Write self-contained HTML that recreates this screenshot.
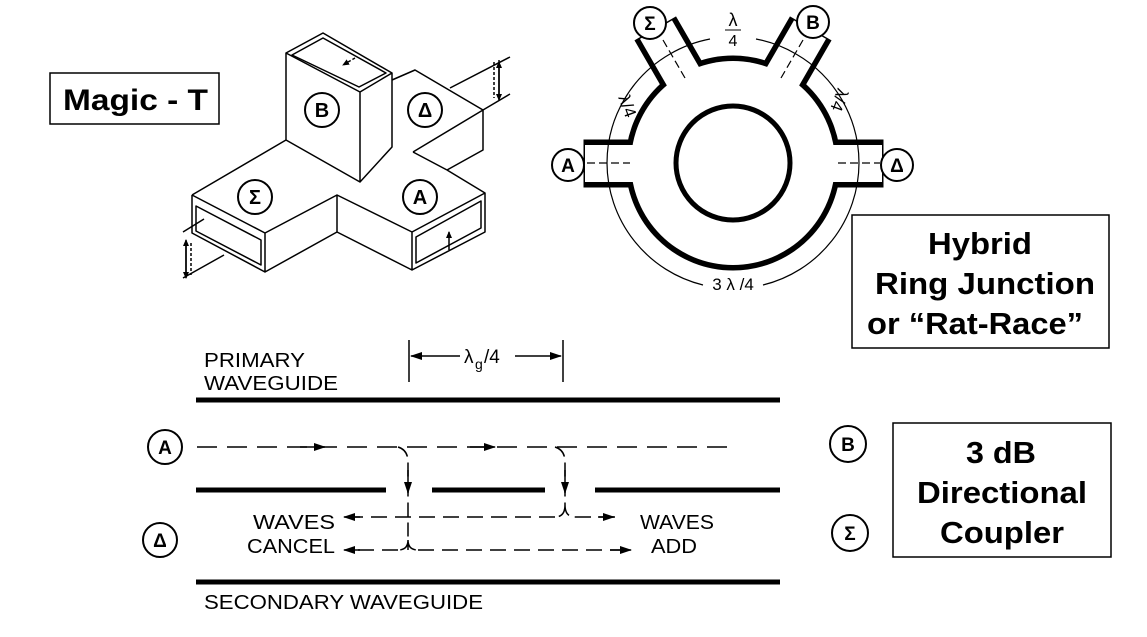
<!DOCTYPE html>
<html><head><meta charset="utf-8"><style>
html,body{margin:0;padding:0;background:#fff;}
svg{display:block}
.b{font-family:"Liberation Sans",sans-serif;font-weight:bold;}
.s{font-family:"Liberation Sans",sans-serif;}
</style></head><body>
<svg width="1147" height="637" viewBox="0 0 1147 637" xmlns="http://www.w3.org/2000/svg">
<defs>
<marker id="ar" markerWidth="12" markerHeight="8" refX="11" refY="4" orient="auto" markerUnits="userSpaceOnUse"><path d="M0,0 L12,4 L0,8 Z" fill="#000"/></marker>
<marker id="sa" markerWidth="7" markerHeight="6" refX="6" refY="3" orient="auto" markerUnits="userSpaceOnUse"><path d="M0,0 L7,3 L0,6 Z" fill="#000"/></marker>
</defs>
<!-- Magic T label -->
<rect x="50" y="73" width="169" height="51" fill="#fff" stroke="#000" stroke-width="1.5"/>
<text x="63" y="110" class="b" font-size="30" textLength="145" lengthAdjust="spacingAndGlyphs">Magic - T</text>
<!-- Magic T drawing -->
<g fill="none" stroke="#000" stroke-width="1.5" stroke-linejoin="round">
<path d="M192,195 L286,140 M192,195 L265,233 L337,195 L412,232 L485,193 L447,170 M265,233 L265,272 L337,232 L412,270 L485,232 L485,193 M337,195 L337,232 M412,232 L412,270 M192,195 L192,233 L265,272"/>
<path d="M196,206 L261,240 L261,265 L196,231 Z"/>
<path d="M416,237 L481,201 L481,228 L416,263 Z"/>
<path d="M449,250 L449,232" marker-end="url(#sa)"/>
<path d="M286,53 L323,33 L392,73 L360,92 Z M286,53 L286,140 L360,182 L392,147 L392,73 M360,92 L360,182"/>
<path d="M292,55 L323,38 L386,73 L359,87 Z"/>
<path d="M355,58 L343,65" stroke-dasharray="3,2" marker-end="url(#sa)"/>
<path d="M392,80 L415,70 L483,110 L483,150 L447,170 M413,152 L483,110 M413,152 L447,170"/>
<path d="M450,88 L510,57 M483,110 L510,94"/>
<path d="M499,60 L499,100" marker-end="url(#sa)"/><path d="M499,95 L499,62" marker-end="url(#sa)"/>
<path d="M494,62 L494,98" stroke-dasharray="3,2"/>
<path d="M204,219 L183,232 M224,255 L183,278"/>
<path d="M186,275 L186,240" marker-end="url(#sa)"/><path d="M186,245 L186,278" marker-end="url(#sa)"/>
<path d="M191,243 L191,275" stroke-dasharray="3,2"/>
</g>
<g font-size="20" class="b" text-anchor="middle">
<circle cx="322" cy="110" r="17" fill="#fff" stroke="#000" stroke-width="2"/><text x="322" y="117">B</text>
<circle cx="425" cy="110" r="17" fill="#fff" stroke="#000" stroke-width="2"/><text x="425" y="117">Δ</text>
<circle cx="255" cy="197" r="17" fill="#fff" stroke="#000" stroke-width="2"/><text x="255" y="204">Σ</text>
<circle cx="420" cy="197" r="17" fill="#fff" stroke="#000" stroke-width="2"/><text x="420" y="204">A</text>
</g>
<!-- Rat race -->
<g>
<g stroke="#000" stroke-width="11" fill="#000">
<circle cx="733" cy="163" r="102"/>
<rect x="589" y="145" width="100" height="37"/>
<rect x="778" y="145" width="100" height="37"/>
<rect x="-18.5" y="-150" width="37" height="100" transform="translate(733,163) rotate(-30)"/>
<rect x="-18.5" y="-150" width="37" height="100" transform="translate(733,163) rotate(30)"/>
</g>
<g fill="#fff">
<circle cx="733" cy="163" r="102"/>
<rect x="585" y="145" width="104" height="37"/>
<rect x="778" y="145" width="104" height="37"/>
<rect x="-18.5" y="-154" width="37" height="104" transform="translate(733,163) rotate(-30)"/>
<rect x="-18.5" y="-154" width="37" height="104" transform="translate(733,163) rotate(30)"/>
</g>
<circle cx="733" cy="163" r="57" fill="#fff" stroke="#000" stroke-width="5"/>
<g fill="none" stroke="#000" stroke-width="1.2">
<path d="M607,163 A126,126 0 0 1 670,54"/>
<path d="M670,54 A126,126 0 0 1 710,39"/><path d="M756,39 A126,126 0 0 1 796,54"/>
<path d="M796,54 A126,126 0 0 1 859,163"/>
<path d="M607,163 A126,126 0 0 0 703,285"/><path d="M763,285 A126,126 0 0 0 859,163"/>
<path d="M587,163 L630,163 M838,163 L880,163" stroke-dasharray="8,4"/>
<path d="M663,40 L685,78 M803,40 L781,78" stroke-dasharray="8,4"/>
</g>
<text x="733" y="26" class="s" font-size="18" text-anchor="middle">λ</text>
<line x1="725" y1="30" x2="741" y2="30" stroke="#000" stroke-width="1"/>
<text x="733" y="46" class="s" font-size="16" text-anchor="middle">4</text>
<text x="0" y="0" class="s" font-size="17" text-anchor="middle" transform="translate(622,108) rotate(70)">λ/4</text>
<text x="0" y="0" class="s" font-size="17" text-anchor="middle" transform="translate(834,98) rotate(110)">λ/4</text>
<text x="733" y="290" class="s" font-size="17" text-anchor="middle">3 λ /4</text>
<g font-size="19" class="b" text-anchor="middle">
<circle cx="650" cy="23" r="16" fill="#fff" stroke="#000" stroke-width="2"/><text x="650" y="30">Σ</text>
<circle cx="813" cy="22" r="16" fill="#fff" stroke="#000" stroke-width="2"/><text x="813" y="29">B</text>
<circle cx="568" cy="165" r="16" fill="#fff" stroke="#000" stroke-width="2"/><text x="568" y="172">A</text>
<circle cx="897" cy="165" r="16" fill="#fff" stroke="#000" stroke-width="2"/><text x="897" y="172">Δ</text>
</g>
</g>
<!-- Hybrid box -->
<rect x="852" y="215" width="257" height="133" fill="#fff" stroke="#000" stroke-width="1.5"/>
<g class="b" font-size="31">
<text x="928" y="254" textLength="104" lengthAdjust="spacingAndGlyphs">Hybrid</text>
<text x="875" y="294" textLength="220" lengthAdjust="spacingAndGlyphs">Ring Junction</text>
<text x="867" y="334" textLength="216" lengthAdjust="spacingAndGlyphs">or “Rat-Race”</text>
</g>
<!-- Directional coupler -->
<g stroke="#000" stroke-width="5" fill="none">
<path d="M196,400 L780,400"/>
<path d="M196,490 L386,490 M432,490 L545,490 M595,490 L780,490"/>
<path d="M196,582 L780,582"/>
</g>
<g stroke="#000" stroke-width="1.5" fill="none">
<path d="M409,340 L409,382 M563,340 L563,382"/>
<path d="M460,356 L411,356" marker-end="url(#ar)"/>
<path d="M515,356 L561,356" marker-end="url(#ar)"/>
<path d="M197,447 L735,447" stroke-dasharray="20,10"/>
<path d="M300,447 L325,447" marker-end="url(#ar)"/>
<path d="M470,447 L495,447" marker-end="url(#ar)"/>
<path d="M398,447 Q408,450 408,462 L408,550 M408,540 Q408,550 398,550 M408,540 Q408,550 418,550" stroke-dasharray="14,6"/>
<path d="M408,470 L408,493" marker-end="url(#ar)"/>
<path d="M555,447 Q565,450 565,462 L565,505 Q565,517 575,517 M565,505 Q565,517 555,517" stroke-dasharray="14,6"/>
<path d="M565,470 L565,493" marker-end="url(#ar)"/>
<path d="M555,517 L350,517" stroke-dasharray="16,8"/>
<path d="M360,517 L344,517" marker-end="url(#ar)"/>
<path d="M575,517 L615,517" stroke-dasharray="16,8"/>
<path d="M598,517 L614,517" marker-end="url(#ar)"/>
<path d="M398,550 L350,550" stroke-dasharray="16,8"/>
<path d="M360,550 L344,550" marker-end="url(#ar)"/>
<path d="M418,550 L630,550" stroke-dasharray="16,8"/>
<path d="M610,550 L631,550" marker-end="url(#ar)"/>
</g>
<g class="s" font-size="20" lengthAdjust="spacingAndGlyphs">
<text x="204" y="367" textLength="101" lengthAdjust="spacingAndGlyphs">PRIMARY</text>
<text x="204" y="390" textLength="134" lengthAdjust="spacingAndGlyphs">WAVEGUIDE</text>
<text x="464" y="363" font-size="19">λ</text><text x="475" y="369" font-size="14">g</text><text x="484" y="363" font-size="19">/4</text>
<text x="253" y="529" textLength="82" lengthAdjust="spacingAndGlyphs">WAVES</text>
<text x="247" y="553" textLength="88" lengthAdjust="spacingAndGlyphs">CANCEL</text>
<text x="640" y="529" textLength="74" lengthAdjust="spacingAndGlyphs">WAVES</text>
<text x="651" y="553" textLength="46" lengthAdjust="spacingAndGlyphs">ADD</text>
<text x="204" y="609" textLength="279" lengthAdjust="spacingAndGlyphs">SECONDARY WAVEGUIDE</text>
</g>
<g font-size="19" class="b" text-anchor="middle">
<circle cx="165" cy="447" r="17" fill="#fff" stroke="#000" stroke-width="2"/><text x="165" y="454">A</text>
<circle cx="160" cy="540" r="17" fill="#fff" stroke="#000" stroke-width="2"/><text x="160" y="547">Δ</text>
<circle cx="848" cy="444" r="18" fill="#fff" stroke="#000" stroke-width="2"/><text x="848" y="451">B</text>
<circle cx="850" cy="533" r="18" fill="#fff" stroke="#000" stroke-width="2"/><text x="850" y="540">Σ</text>
</g>
<rect x="893" y="423" width="218" height="134" fill="#fff" stroke="#000" stroke-width="1.5"/>
<g class="b" font-size="31">
<text x="966" y="463" textLength="70" lengthAdjust="spacingAndGlyphs">3 dB</text>
<text x="917" y="503" textLength="170" lengthAdjust="spacingAndGlyphs">Directional</text>
<text x="940" y="543" textLength="124" lengthAdjust="spacingAndGlyphs">Coupler</text>
</g>
</svg>
</body></html>
